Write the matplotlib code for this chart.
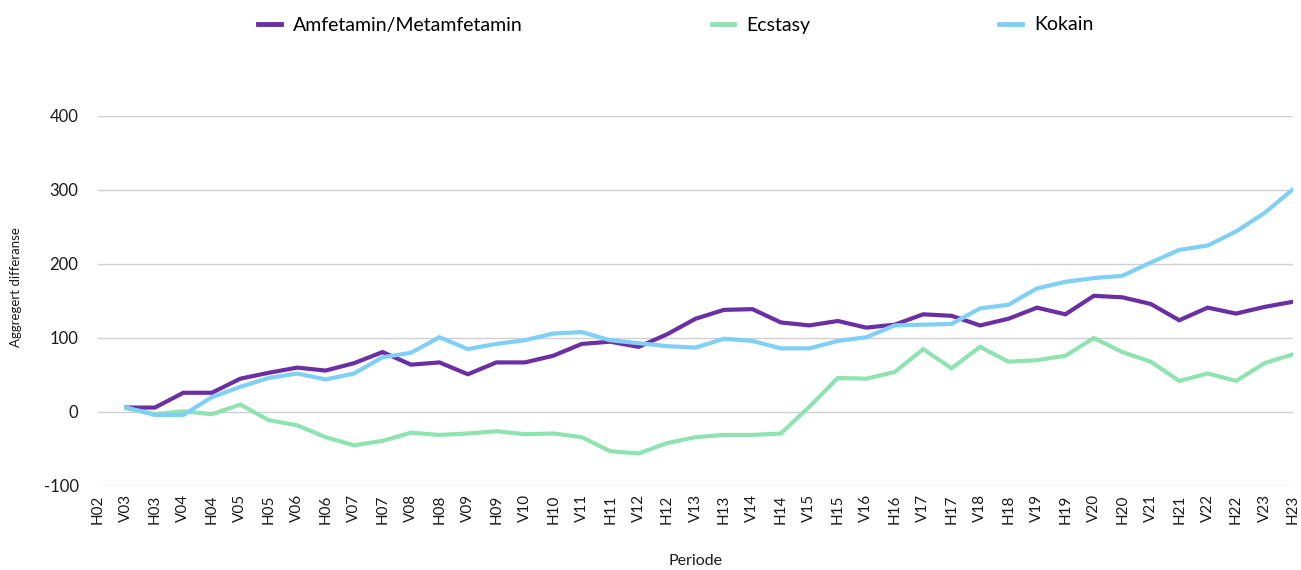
import numpy as np
import matplotlib
matplotlib.use('Agg')
from matplotlib import pyplot as plt
from matplotlib.lines import Line2D

plt.rcParams['font.family'] = ['Lato', 'DejaVu Sans']
plt.rcParams['axes.unicode_minus'] = False

# periods: H02, V03, H03, ... V23, H23
periods = ['H02']
for year in range(3, 24):
    periods += [f'V{year:02d}', f'H{year:02d}']

# aggregated difference, H02 has no value
amfetamin = [np.nan, 6, 6, 26, 26, 45, 53, 60, 56, 66, 81, 64, 67, 51, 67,
             67, 76, 92, 95, 88, 105, 126, 138, 139, 121, 117, 123, 114, 118,
             132, 130, 117, 126, 141, 132, 157, 155, 146, 124, 141, 133, 142, 149]
ecstasy = [np.nan, 5, -3, 1, -3, 10, -11, -18, -34, -45, -39, -28, -31, -29, -26,
           -30, -29, -34, -53, -56, -42, -34, -31, -31, -29, 7, 46, 45, 54,
           85, 59, 88, 68, 70, 76, 100, 81, 68, 42, 52, 42, 66, 78]
kokain = [np.nan, 6, -4, -4, 20, 34, 46, 52, 44, 52, 74, 80, 101, 85, 92,
          97, 106, 108, 97, 93, 89, 87, 99, 96, 86, 86, 96, 101, 117,
          118, 119, 140, 145, 167, 176, 181, 184, 202, 219, 225, 244, 269, 301]

series_names = ['Amfetamin/Metamfetamin', 'Ecstasy', 'Kokain']
colors = ['#6a2fa3', '#8fe3b1', '#80cff4']

fig = plt.figure(figsize=(13.01, 5.70), dpi=100)
ax = fig.add_axes([98 / 1301, 1 - 486 / 570, (1293 - 98) / 1301, (486 - 116) / 570])

x = np.arange(len(periods))
for values, color in zip([amfetamin, ecstasy, kokain], colors):
    ax.plot(x, values, color=color, linewidth=3.0, solid_joinstyle='miter', zorder=3)

ax.set_xlim(0, len(periods) - 1)
ax.set_ylim(-100, 400)
ax.set_yticks([-100, 0, 100, 200, 300, 400])
ax.set_xticks(x)
ax.set_xticklabels(periods, rotation=90, fontsize=11, color='#1a1a1a')
ax.tick_params(axis='y', labelsize=12, labelcolor='#1a1a1a', length=0, pad=14)
ax.tick_params(axis='x', length=0, pad=6)
ax.grid(axis='y', color='#cfcfcf', linewidth=1.0, zorder=0)
for spine in ax.spines.values():
    spine.set_visible(False)

ax.set_xlabel('Periode', fontsize=11.5, color='#1a1a1a')
ax.xaxis.set_label_coords(0.5, -(554 - 486) / 370)
ax.set_ylabel('Aggregert differanse', fontsize=9.5, color='#1a1a1a')
ax.yaxis.set_label_coords(-(98 - 22) / 1195, 1 - (287 - 116) / 370)

handles = [Line2D([], [], color=c, linewidth=3.5) for c in colors]
fig.legend(handles, series_names, ncol=3, loc='center', bbox_to_anchor=(676 / 1301, 1 - 25 / 570),
           frameon=False, fontsize=14, handlelength=1.15, handletextpad=0.65, columnspacing=9.7)

fig.savefig('out.png', dpi=100)
